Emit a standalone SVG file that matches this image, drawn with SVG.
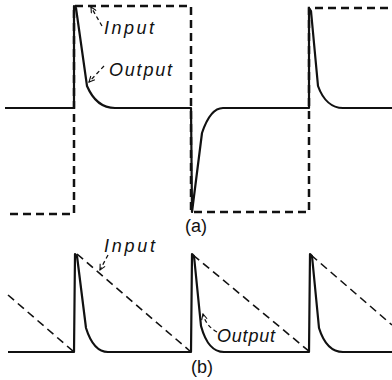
<svg xmlns="http://www.w3.org/2000/svg" width="392" height="380" viewBox="0 0 392 380">
<style>
.out{fill:none;stroke:#111;stroke-width:2.2;stroke-linejoin:round}
.ina{fill:none;stroke:#111;stroke-width:2.5;stroke-dasharray:8 5}
.inb{fill:none;stroke:#111;stroke-width:1.6;stroke-dasharray:8 5}
.arr{fill:none;stroke:#111;stroke-width:1.3;stroke-dasharray:4 3}
.lbl{font-family:"Liberation Sans",Arial,sans-serif;font-style:italic;font-size:18px;fill:#111}
.cap{font-family:"Liberation Sans",Arial,sans-serif;font-size:18px;fill:#111}
</style>
<defs>
<marker id="ah" viewBox="0 0 10 10" refX="9" refY="5" markerWidth="7" markerHeight="7" orient="auto" markerUnits="userSpaceOnUse">
<path d="M1,1 L9,5 L1,9" fill="none" stroke="#111" stroke-width="1.6"/>
</marker>
</defs>
<rect width="392" height="380" fill="#fff"/>
<g id="waveform-a">
<path class="ina" d="M10,214 L74,214 L74,6 L191,6 L191,212 L309,212 L309,8 L392,8"/>
<path class="out" d="M5,108 L74,108 L74,6 L76,8 L87,86 C93,100 103,108 115,108 L191,108 L192,212 L202,133 C207,118 214,108 223,108 L309,108 L309,8 L311,11 L318,86 C323,100 332,108 343,108 L392,108"/>
</g>
<g id="waveform-b">
<path class="inb" d="M8,295 L74,352 M77,254 L191,352 M193,255 L310,352 M311,255 L392,325"/>
<path class="out" d="M8,352 L74,352 L75,254 L77,256 L86,328 C91,344 98,352 108,352 L191,352 L192,254 L194,256 L201,326 C206,344 213,352 224,352 L309,352 L310,254 L312,256 L319,328 C324,344 332,352 343,352 L392,352"/>
</g>
<g id="connectors">
<path class="arr" d="M102,26 L91,7" marker-end="url(#ah)"/>
<path class="arr" d="M104,66 L89,82" marker-end="url(#ah)"/>
<path class="arr" d="M108,255 L100,270" marker-end="url(#ah)"/>
<path class="arr" d="M217,332 Q206,326 203,314" marker-end="url(#ah)"/>
</g>
<g id="label-input-a"><text class="lbl" x="104" y="34" textLength="50" lengthAdjust="spacing">Input</text></g>
<g id="label-output-a"><text class="lbl" x="109" y="76" textLength="63" lengthAdjust="spacing">Output</text></g>
<g id="label-input-b"><text class="lbl" x="104" y="252" textLength="51" lengthAdjust="spacing">Input</text></g>
<g id="label-output-b"><text class="lbl" x="217" y="342" textLength="58" lengthAdjust="spacing">Output</text></g>
<g id="caption-a"><text class="cap" x="185" y="232">(a)</text></g>
<g id="caption-b"><text class="cap" x="191" y="373">(b)</text></g>
</svg>
